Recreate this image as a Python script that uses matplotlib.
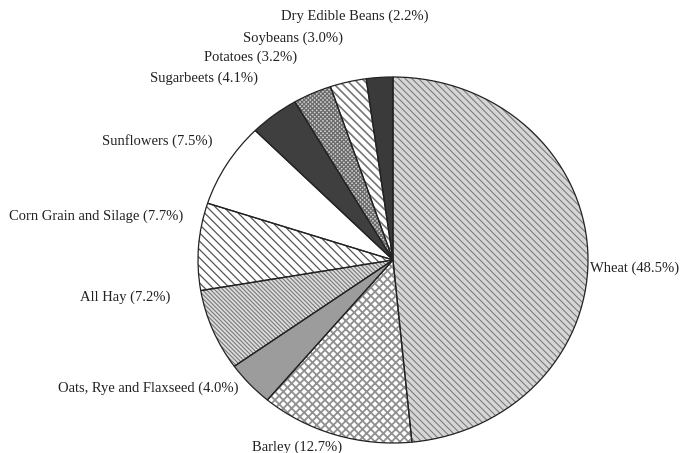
import matplotlib.pyplot as plt
import matplotlib as mpl

# crop acreage shares, clockwise from 12 o'clock
crops = ['Wheat', 'Barley', 'Oats, Rye and Flaxseed', 'All Hay', 'Corn Grain and Silage',
         'Sunflowers', 'Sugarbeets', 'Potatoes', 'Soybeans', 'Dry Edible Beans']
shares = [48.5, 12.7, 4.0, 7.2, 7.7, 7.5, 4.1, 3.2, 3.0, 2.2]

fills = ['#d6d6d6', 'white', '#9c9c9c', '#dcdcdc', 'white', 'white', '#3f3f3f', '#d0d0d0', 'white', '#3a3a3a']
hatch_cols = ['#7c7c7c', '#909090', '#9c9c9c', '#7a7a7a', '#555555', 'white', '#3f3f3f', '#6a6a6a', '#777777', '#3a3a3a']
hatches = ['\\' * 5, 'xxxx', '', '\\' * 8, '\\' * 4, '', '', 'x' * 8, '\\' * 4, '']
hatch_lw = [0.8, 1.3, 0.8, 0.8, 0.9, 0.8, 0.8, 0.9, 1.2, 0.8]

# label anchors in pixels (x, y, ha)
label_pos = [(590, 268, 'left'), (297, 447, 'center'), (238, 388, 'right'), (170, 297, 'right'),
             (183, 216, 'right'), (213, 141, 'right'), (258, 78, 'right'), (297, 57, 'right'),
             (343, 38, 'right'), (355, 16, 'center')]

W, H = 689, 453
mpl.rcParams['hatch.linewidth'] = 0.8
fig = plt.figure(figsize=(W / 100, H / 100), dpi=100)
ax = fig.add_axes([198 / W, (H - 443) / H, 390 / W, 366 / H])

wedges, _ = ax.pie(shares, startangle=90, counterclock=False, colors=fills,
                   wedgeprops=dict(linewidth=0))
for w, h, hc, lw in zip(wedges, hatches, hatch_cols, hatch_lw):
    w.set_edgecolor(hc)
    w.set_hatch(h)
    if hasattr(w, 'set_hatch_linewidth'):
        w.set_hatch_linewidth(lw)

# outlines on top
outl, _ = ax.pie(shares, startangle=90, counterclock=False,
                 wedgeprops=dict(fill=False, edgecolor='#222222', linewidth=0.9))
ax.set_xlim(-1, 1)
ax.set_ylim(-1, 1)
ax.set_aspect('auto')
ax.axis('off')

for name, s, (px, py, ha) in zip(crops, shares, label_pos):
    fig.text(px / W, 1 - py / H, f'{name} ({s}%)', ha=ha, va='center',
             fontsize=10.5, family='Liberation Serif', color='#222222')

fig.savefig('out.png', dpi=100)
